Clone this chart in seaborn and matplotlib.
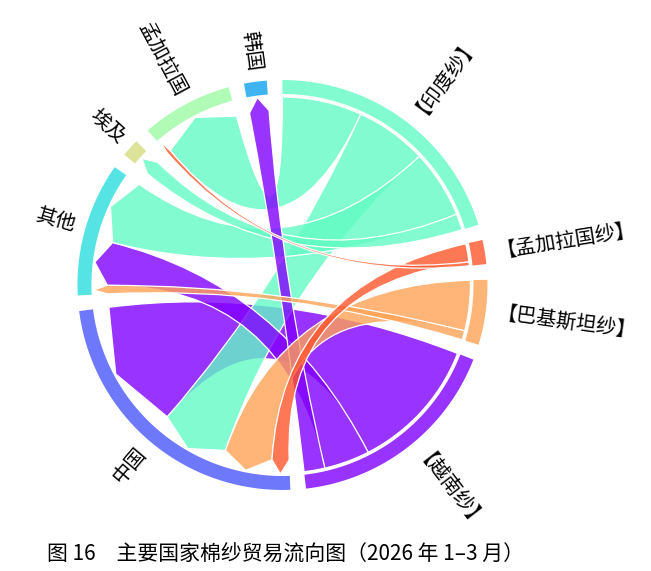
import numpy as np
import matplotlib
matplotlib.use("Agg")
import matplotlib.pyplot as plt
from matplotlib.path import Path
from matplotlib.patches import PathPatch
import seaborn as sns

# 出口方（纱线）与进口国，顺时针排列
sources = ["印度纱", "孟加拉国纱", "巴基斯坦纱", "越南纱"]
targets = ["中国", "其他", "埃及", "孟加拉国", "韩国"]

# 各流向的贸易量（从图上估计）
india_dest = ["孟加拉国", "中国", "其他", "埃及"]
india_vals = [24.5, 22.0, 21.0, 5.0]
bangla_dest = ["中国", "孟加拉国"]
bangla_vals = [5.6, 1.2]
pak_dest = ["中国", "其他"]
pak_vals = [15.5, 2.8]
viet_dest = ["中国", "其他", "韩国"]
viet_vals = [41.3, 14.0, 6.4]

# 进口国一侧的弦排列顺序
target_order = {
    "中国": ["孟加拉国纱", "巴基斯坦纱", "印度纱", "越南纱"],
    "其他": ["巴基斯坦纱", "越南纱", "印度纱"],
    "埃及": ["印度纱"],
    "孟加拉国": ["孟加拉国纱", "印度纱"],
    "韩国": ["越南纱"],
}

# 颜色序号（rainbow 色带）
color_rank = ["越南纱", "中国", "韩国", "其他", "印度纱", "孟加拉国", "埃及", "巴基斯坦纱", "孟加拉国纱"]

caption = "图 16　主要国家棉纱贸易流向图（2026 年 1–3 月）"

links = {
    "印度纱": list(zip(india_dest, india_vals)),
    "孟加拉国纱": list(zip(bangla_dest, bangla_vals)),
    "巴基斯坦纱": list(zip(pak_dest, pak_vals)),
    "越南纱": list(zip(viet_dest, viet_vals)),
}

sns.set_theme(style="white")
plt.rcParams["font.family"] = ["Noto Sans CJK SC", "DejaVu Sans"]

cmap = sns.color_palette("rainbow", as_cmap=True)
colors = {n: cmap(i / len(color_rank)) for i, n in enumerate(color_rank)}
ALPHA = 0.8

# 节点总量
totals = {s: sum(v for _, v in links[s]) for s in sources}
for t in targets:
    totals[t] = sum(v for s in sources for d, v in links[s] if d == t)

nodes = sources + targets
gap = 4.4
k = (360 - gap * len(nodes)) / sum(totals.values())

span = {}
ang = 90.0
for n in nodes:
    span[n] = (ang, ang - totals[n] * k)
    ang = ang - totals[n] * k - gap

# 每条弦在两端的角度区间
src_iv, tgt_iv = {}, {}
for s in sources:
    a = span[s][0]
    for d, v in links[s]:
        src_iv[(s, d)] = (a, a - v * k)
        a -= v * k
for t in targets:
    a = span[t][0]
    for s in target_order[t]:
        v = dict(links[s])[t]
        tgt_iv[(s, t)] = (a, a - v * k)
        a -= v * k

R_OUT, R_IN = 1.0, 0.932
R_SRC, R_TGT, R_TIP = 0.917, 0.854, 0.922


def arc(r, a0, a1, n=40):
    t = np.radians(np.linspace(a0, a1, n))
    return np.column_stack([r * np.cos(t), r * np.sin(t)])


def pt(r, a):
    return [r * np.cos(np.radians(a)), r * np.sin(np.radians(a))]


fig = plt.figure(figsize=(6.51, 5.71), dpi=100)
ax = fig.add_axes([0, 0, 1, 1])
ax.set_xlim(-1.378, 1.798)
ax.set_ylim(-1.395, 1.390)
ax.set_aspect("equal")
ax.axis("off")

# 外环
for n in nodes:
    a0, a1 = span[n]
    ring = np.vstack([arc(R_OUT, a0, a1), arc(R_IN, a1, a0)])
    c = colors[n]
    ax.fill(ring[:, 0], ring[:, 1], color=(c[0], c[1], c[2], ALPHA), lw=0)

# 弦（绘制顺序）
draw_order = [
    ("越南纱", "中国"),
    ("印度纱", "孟加拉国"), ("印度纱", "中国"), ("印度纱", "其他"), ("印度纱", "埃及"),
    ("越南纱", "其他"), ("越南纱", "韩国"),
    ("巴基斯坦纱", "中国"), ("巴基斯坦纱", "其他"),
    ("孟加拉国纱", "中国"), ("孟加拉国纱", "孟加拉国"),
]
for s, t in draw_order:
    sa, sb = src_iv[(s, t)]
    ta, tb = tgt_iv[(s, t)]
    verts = list(arc(R_SRC, sa, sb, 30))
    codes = [Path.MOVETO] + [Path.LINETO] * (len(verts) - 1)
    verts += [[0, 0], pt(R_TGT, ta)]
    codes += [Path.CURVE3, Path.CURVE3]
    verts += [pt(R_TIP, (ta + tb) / 2), pt(R_TGT, tb)]
    codes += [Path.LINETO, Path.LINETO]
    verts += [[0, 0], pt(R_SRC, sa)]
    codes += [Path.CURVE3, Path.CURVE3]
    verts += [pt(R_SRC, sa)]
    codes += [Path.CLOSEPOLY]
    c = colors[s]
    ax.add_patch(PathPatch(Path(verts, codes), facecolor=(c[0], c[1], c[2], ALPHA),
                           edgecolor="white", lw=0.9))

# 节点标签
for n in nodes:
    mid = sum(span[n]) / 2
    label = "【" + n + "】" if n in sources else n
    x, y = pt(1.055, mid)
    if np.cos(np.radians(mid)) >= 0:
        rot, ha = mid, "left"
    else:
        rot, ha = mid - 180, "right"
    ax.text(x, y, label, rotation=rot, rotation_mode="anchor", ha=ha, va="center",
            fontsize=14.5, color="black")

fig.text(47 / 651, 1 - 555 / 571, caption, ha="left", va="center", fontsize=15, color="black")

fig.savefig("out.png", dpi=100, facecolor="white")
